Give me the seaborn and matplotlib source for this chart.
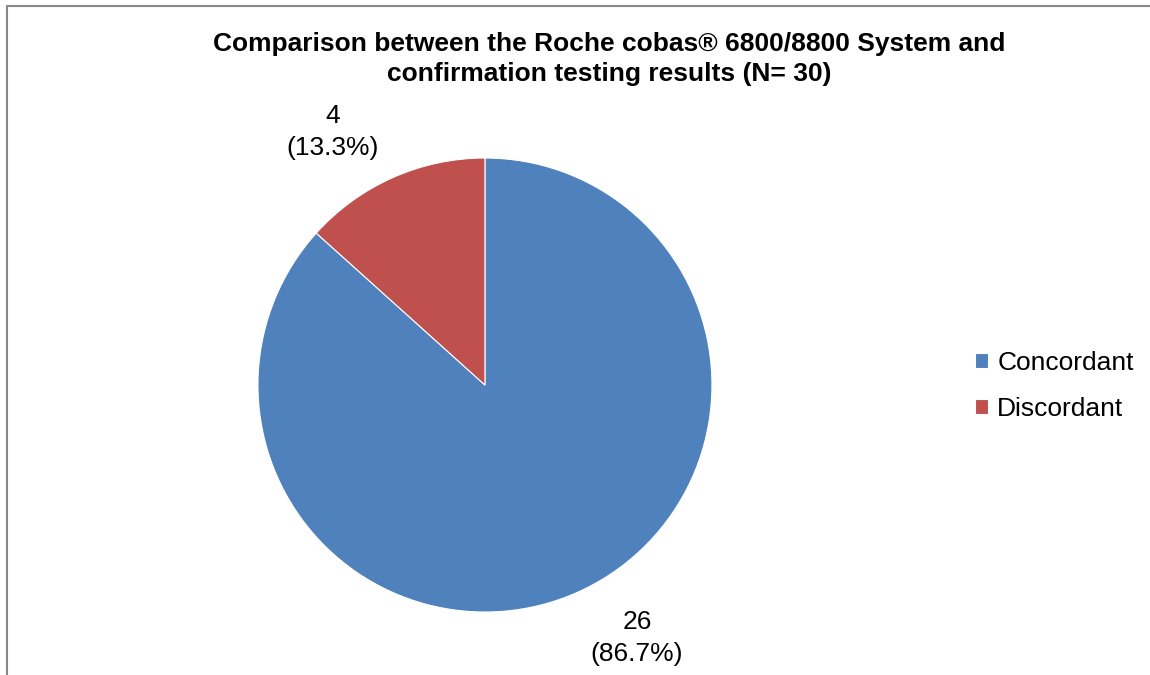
import matplotlib
matplotlib.use('Agg')
import numpy as np
import matplotlib.pyplot as plt
import seaborn as sns
from matplotlib.lines import Line2D

# dados
categorias = ['Concordant', 'Discordant']
valores = [26, 4]
cores = ['#4F81BD', '#C0504D']
titulo = 'Comparison between the Roche cobas® 6800/8800 System and\nconfirmation testing results (N= 30)'

sns.set_theme(style='white')
plt.rcParams['font.family'] = ['Liberation Sans', 'DejaVu Sans']

fig = plt.figure(figsize=(11.5, 6.75), dpi=100)
ax = fig.add_axes([0.2243, 0.0933, 0.3948, 0.6726])

total = sum(valores)
rotulos = [f'{v}\n({v / total * 100:.1f}%)' for v in valores]

wedges, _ = ax.pie(valores, colors=cores, startangle=90, counterclock=False,
                   wedgeprops=dict(edgecolor='white', linewidth=0.8))
ax.set_xlim(-1, 1)
ax.set_ylim(-1, 1)
ax.set_aspect('equal')

# rótulos fora da fatia (estilo "melhor ajuste" do Excel)
for w, rot in zip(wedges, rotulos):
    ang = np.deg2rad((w.theta1 + w.theta2) / 2 + 7)
    ax.text(1.3 * np.cos(ang), 1.3 * np.sin(ang), rot, ha='center', va='center',
            fontsize=19, color='black', linespacing=1.4, clip_on=False)

fig.text(0.530, 0.912, titulo, ha='center', va='center', fontsize=19,
         fontweight='bold', linespacing=1.32, color='black')

leg = fig.legend(wedges, categorias, loc='center left', bbox_to_anchor=(0.827, 0.428),
                 frameon=False, fontsize=19, handlelength=0.5, handleheight=0.5,
                 handletextpad=0.35, labelspacing=0.85)
for t in leg.get_texts():
    t.set_color('black')

# moldura
fig.add_artist(Line2D([0.0065, 0.0065], [0, 0.991], transform=fig.transFigure,
                      color='#888888', linewidth=1.5))
fig.add_artist(Line2D([0.0065, 1], [0.991, 0.991], transform=fig.transFigure,
                      color='#888888', linewidth=1.5))

fig.savefig('out.png', dpi=100)
